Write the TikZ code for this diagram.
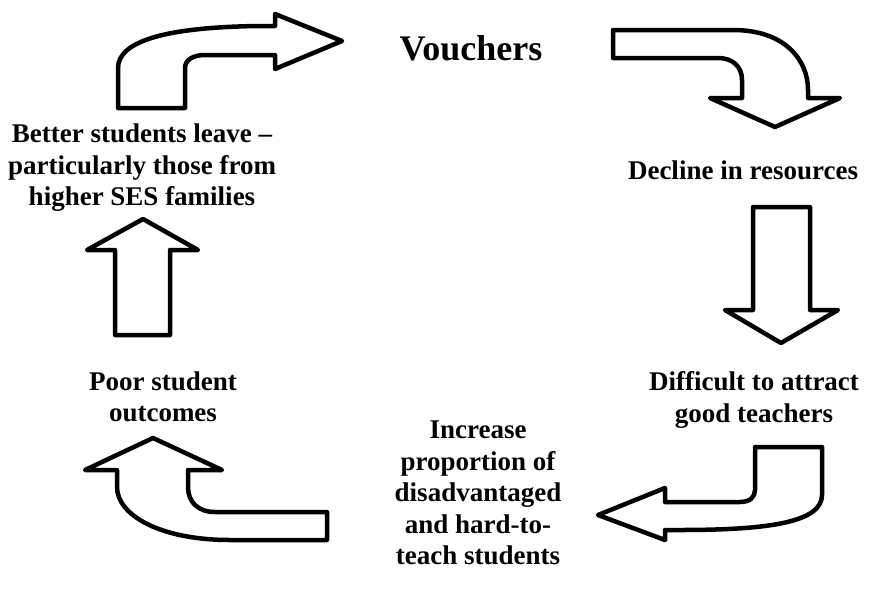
\documentclass[tikz,border=0pt]{standalone}
\usepackage{fontspec}
\setmainfont{Liberation Serif}
\begin{document}
\begin{tikzpicture}[x=1pt,y=-1pt,
  bigarrow/.style={draw=black,line width=4.5pt,line join=round,fill=white},
  lbl/.style={font=\bfseries\fontsize{27}{31.5}\selectfont,align=center,inner sep=0pt},
  title/.style={font=\bfseries\fontsize{36}{40}\selectfont,inner sep=0pt}]
\useasboundingbox (0,0) rectangle (881,592);
% arrows
\draw[bigarrow] (118,108) -- (118,68) .. controls (118,40) and (170,27) .. (260,26)
  -- (275,26) -- (275,14) -- (342,41) -- (275,69) -- (275,55) -- (205,55)
  .. controls (193,55) and (185,60) .. (185,68) -- (185,108) -- cycle;
\draw[bigarrow] (613,30) -- (733,30) .. controls (785,30) and (808,60) .. (808,90)
  -- (808,98) -- (840,98) -- (775,127) -- (710,98) -- (742,98) -- (742,80)
  .. controls (742,66) and (732,58) .. (718,58) -- (613,58) -- cycle;
\draw[bigarrow] (753,207) -- (810,207) -- (810,310) -- (838,310) -- (781,343)
  -- (725,310) -- (753,310) -- cycle;
\draw[bigarrow] (755,447) -- (822,447) -- (822,495) .. controls (822,522) and (770,530) .. (680,530)
  -- (665,530) -- (665,540) -- (598,515) -- (665,488) -- (665,502) -- (740,502)
  .. controls (750,502) and (755,497) .. (755,490) -- cycle;
\draw[bigarrow] (153,438) -- (222,470) -- (188,470) -- (188,487)
  .. controls (188,502) and (198,512) .. (215,512) -- (327,512) -- (327,540) -- (230,540)
  .. controls (160,540) and (117,515) .. (117,487) -- (117,470) -- (85,470) -- cycle;
\draw[bigarrow] (115,335) -- (170,335) -- (170,250) -- (198,250) -- (143,219)
  -- (87,250) -- (115,250) -- cycle;
% labels
\node[title] (v) at (471,48) {Vouchers};
\node[lbl] (b) at (142,168) {Better students leave –\\particularly those from\\higher SES families};
\node[lbl] (d) at (743,170) {Decline in resources};
\node[lbl] (t) at (754,400) {Difficult to attract\\good teachers};
\node[lbl] (p) at (163,397) {Poor student\\outcomes};
\node[lbl] (i) at (478,493) {Increase\\proportion of\\disadvantaged\\and hard-to-\\teach students};
\end{tikzpicture}
\end{document}
